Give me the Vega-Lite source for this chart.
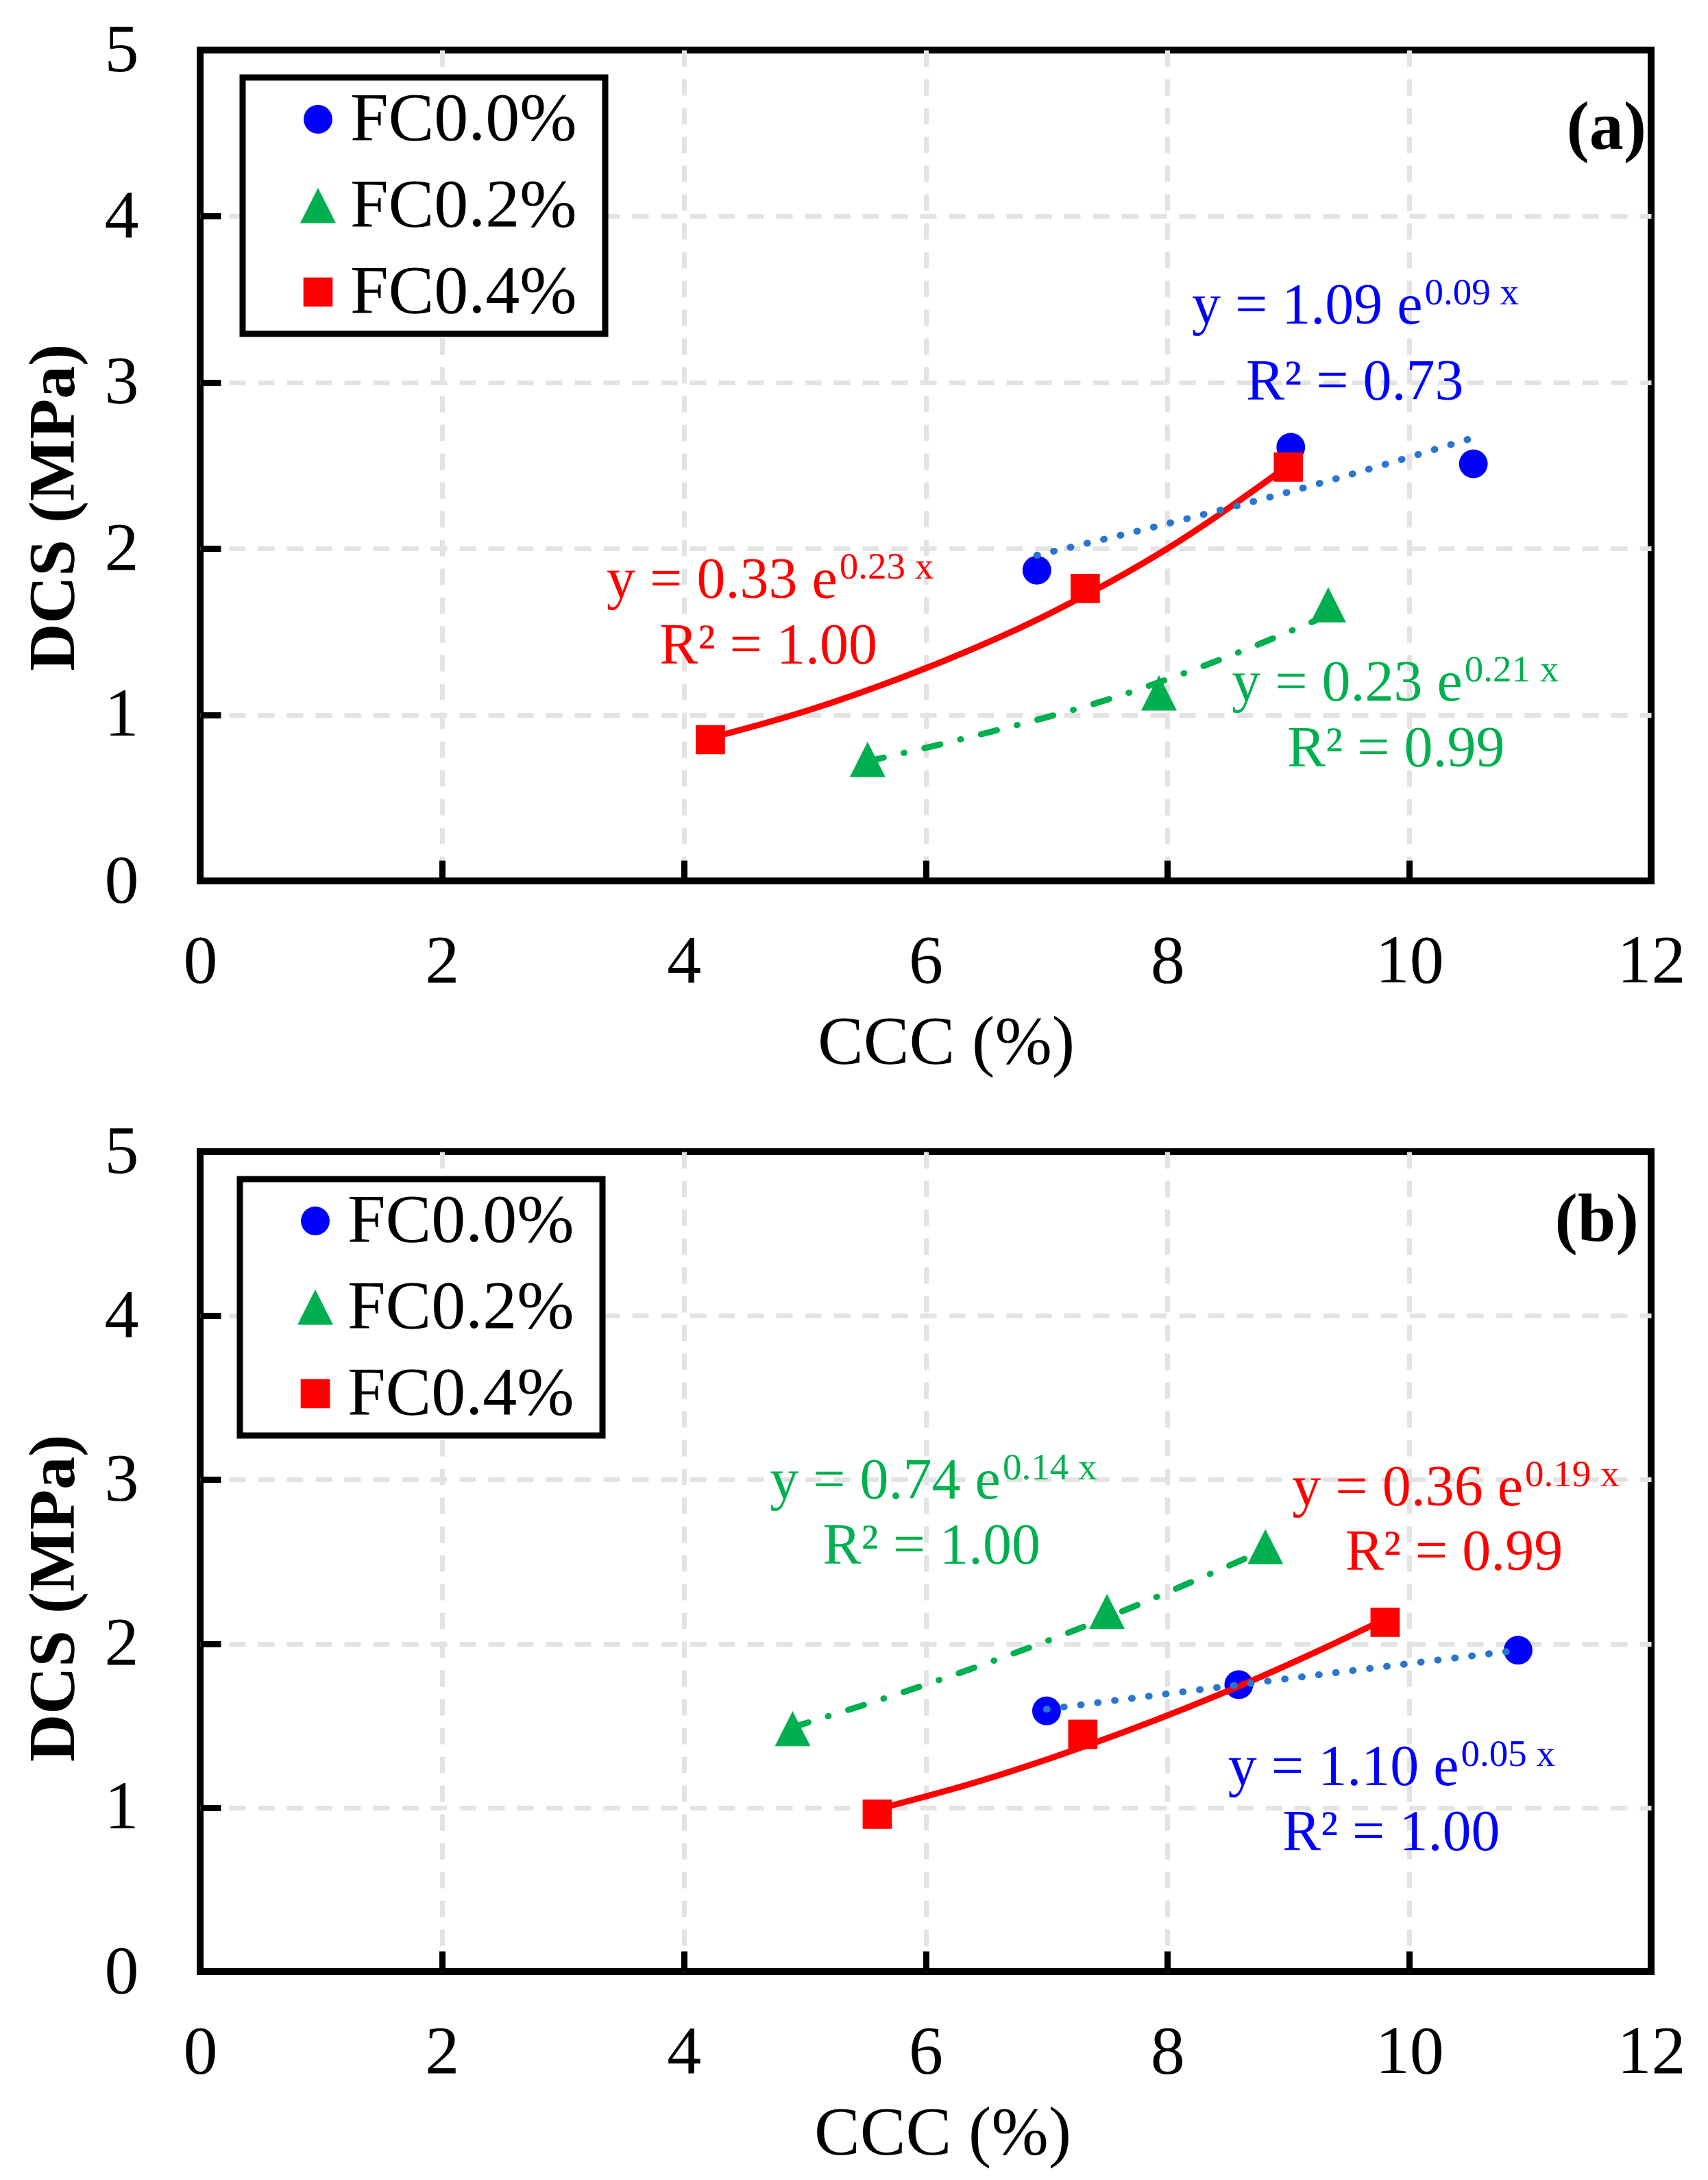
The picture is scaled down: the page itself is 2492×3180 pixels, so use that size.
{
  "$schema": "https://vega.github.io/schema/vega-lite/v6.json",
  "background": "white",
  "padding": {"left": 25, "top": 18, "right": 60, "bottom": 20},
  "bounds": "flush",
  "spacing": 395,
  "config": {
    "font": "Liberation Serif",
    "view": {"stroke": "black", "strokeWidth": 10},
    "legend": {"strokeWidth": 9},
    "axis": {
      "domain": false,
      "grid": true,
      "gridColor": "#E3E3E3",
      "gridWidth": 7,
      "gridDash": [24, 18],
      "ticks": true,
      "tickSize": -30,
      "tickWidth": 9,
      "tickColor": "black",
      "labelFont": "Liberation Serif",
      "labelFontSize": 100,
      "labelColor": "black",
      "labelFlush": false,
      "labelOverlap": false,
      "titleFont": "Liberation Serif",
      "titleFontSize": 100,
      "titleColor": "black"
    },
    "axisX": {"labelPadding": 98, "titlePadding": 19, "titleFontWeight": "normal"},
    "axisY": {"labelPadding": 120, "titlePadding": 25, "titleFontWeight": "bold", "titleFontSize": 96}
  },
  "datasets": {
    "pa": [
      {"series": "FC0.0%", "ccc": 6.92, "dcs": 1.87},
      {"series": "FC0.0%", "ccc": 9.02, "dcs": 2.61},
      {"series": "FC0.0%", "ccc": 10.53, "dcs": 2.51},
      {"series": "FC0.2%", "ccc": 5.52, "dcs": 0.73},
      {"series": "FC0.2%", "ccc": 7.93, "dcs": 1.13},
      {"series": "FC0.2%", "ccc": 9.33, "dcs": 1.66},
      {"series": "FC0.4%", "ccc": 4.22, "dcs": 0.85},
      {"series": "FC0.4%", "ccc": 7.32, "dcs": 1.76},
      {"series": "FC0.4%", "ccc": 9.0, "dcs": 2.49}
    ],
    "ta": [
      {"series": "FC0.0%", "ccc": 6.92, "dcs": 1.96},
      {"series": "FC0.0%", "ccc": 8.0, "dcs": 2.15},
      {"series": "FC0.0%", "ccc": 9.0, "dcs": 2.34},
      {"series": "FC0.0%", "ccc": 10.5, "dcs": 2.66},
      {"series": "FC0.2%", "ccc": 5.52, "dcs": 0.72},
      {"series": "FC0.2%", "ccc": 6.5, "dcs": 0.89},
      {"series": "FC0.2%", "ccc": 7.5, "dcs": 1.09},
      {"series": "FC0.2%", "ccc": 8.5, "dcs": 1.35},
      {"series": "FC0.2%", "ccc": 9.33, "dcs": 1.6},
      {"series": "FC0.4%", "ccc": 4.22, "dcs": 0.86},
      {"series": "FC0.4%", "ccc": 5.0, "dcs": 1.02},
      {"series": "FC0.4%", "ccc": 6.0, "dcs": 1.28},
      {"series": "FC0.4%", "ccc": 7.0, "dcs": 1.6},
      {"series": "FC0.4%", "ccc": 8.0, "dcs": 2.0},
      {"series": "FC0.4%", "ccc": 9.0, "dcs": 2.5}
    ],
    "la": [
      {"kind": "eq", "series": "FC0.0%", "ccc": 10.11, "dcs": 3.354, "txt": "y = 1.09 e", "sup": "0.09 x"},
      {"kind": "r2", "series": "FC0.0%", "ccc": 9.55, "dcs": 2.896, "txt": "R² = 0.73"},
      {"kind": "eq", "series": "FC0.4%", "ccc": 5.27, "dcs": 1.704, "txt": "y = 0.33 e", "sup": "0.23 x"},
      {"kind": "r2", "series": "FC0.4%", "ccc": 4.7, "dcs": 1.308, "txt": "R² = 1.00"},
      {"kind": "eq", "series": "FC0.2%", "ccc": 10.44, "dcs": 1.085, "txt": "y = 0.23 e", "sup": "0.21 x"},
      {"kind": "r2", "series": "FC0.2%", "ccc": 9.89, "dcs": 0.689, "txt": "R² = 0.99"},
      {"kind": "tag", "ccc": 11.63, "dcs": 4.53, "txt": "(a)"}
    ],
    "pb": [
      {"series": "FC0.0%", "ccc": 7.0, "dcs": 1.59},
      {"series": "FC0.0%", "ccc": 8.59, "dcs": 1.75},
      {"series": "FC0.0%", "ccc": 10.9, "dcs": 1.96},
      {"series": "FC0.2%", "ccc": 4.9, "dcs": 1.48},
      {"series": "FC0.2%", "ccc": 7.5, "dcs": 2.195},
      {"series": "FC0.2%", "ccc": 8.81, "dcs": 2.59},
      {"series": "FC0.4%", "ccc": 5.6, "dcs": 0.96},
      {"series": "FC0.4%", "ccc": 7.3, "dcs": 1.447},
      {"series": "FC0.4%", "ccc": 9.8, "dcs": 2.13}
    ],
    "tb": [
      {"series": "FC0.0%", "ccc": 7.0, "dcs": 1.6},
      {"series": "FC0.0%", "ccc": 8.6, "dcs": 1.75},
      {"series": "FC0.0%", "ccc": 10.9, "dcs": 1.96},
      {"series": "FC0.2%", "ccc": 4.9, "dcs": 1.49},
      {"series": "FC0.2%", "ccc": 6.0, "dcs": 1.75},
      {"series": "FC0.2%", "ccc": 7.4, "dcs": 2.13},
      {"series": "FC0.2%", "ccc": 8.8, "dcs": 2.57},
      {"series": "FC0.4%", "ccc": 5.6, "dcs": 0.99},
      {"series": "FC0.4%", "ccc": 6.44, "dcs": 1.16},
      {"series": "FC0.4%", "ccc": 7.3, "dcs": 1.37},
      {"series": "FC0.4%", "ccc": 8.59, "dcs": 1.74},
      {"series": "FC0.4%", "ccc": 9.26, "dcs": 1.96},
      {"series": "FC0.4%", "ccc": 9.8, "dcs": 2.15}
    ],
    "lb": [
      {"kind": "eq", "series": "FC0.2%", "ccc": 6.62, "dcs": 2.885, "txt": "y = 0.74 e", "sup": "0.14 x"},
      {"kind": "r2", "series": "FC0.2%", "ccc": 6.05, "dcs": 2.487, "txt": "R² = 1.00"},
      {"kind": "eq", "series": "FC0.4%", "ccc": 10.94, "dcs": 2.843, "txt": "y = 0.36 e", "sup": "0.19 x"},
      {"kind": "r2", "series": "FC0.4%", "ccc": 10.37, "dcs": 2.45, "txt": "R² = 0.99"},
      {"kind": "eq", "series": "FC0.0%", "ccc": 10.41, "dcs": 1.137, "txt": "y = 1.10 e", "sup": "0.05 x"},
      {"kind": "r2", "series": "FC0.0%", "ccc": 9.85, "dcs": 0.74, "txt": "R² = 1.00"},
      {"kind": "tag", "ccc": 11.55, "dcs": 4.58, "txt": "(b)"}
    ]
  },
  "resolve": {"scale": {"color": "independent", "shape": "independent", "fill": "independent"}},
  "vconcat": [
    {
      "width": 2117,
      "height": 1212,
      "encoding": {
        "x": {"field": "ccc", "type": "quantitative",
          "scale": {"domain": [0, 12], "nice": false, "zero": false},
          "axis": {"title": "CCC (%)", "values": [0, 2, 4, 6, 8, 10, 12], "titleX": 1088,
            "gridOpacity": {"condition": {"test": "datum.value == 0 || datum.value == 12", "value": 0}, "value": 1}}},
        "y": {"field": "dcs", "type": "quantitative",
          "scale": {"domain": [0, 5], "nice": false},
          "axis": {"title": "DCS (MPa)", "values": [0, 1, 2, 3, 4, 5], "titleY": 667,
            "gridOpacity": {"condition": {"test": "datum.value == 0 || datum.value == 5", "value": 0}, "value": 1}}}
      },
      "layer": [
        {
          "data": {"name": "pa"},
          "mark": {"type": "point", "filled": true, "size": 1650, "opacity": 1},
          "encoding": {
            "color": {"field": "series", "type": "nominal",
              "scale": {"domain": ["FC0.0%", "FC0.2%", "FC0.4%"], "range": ["#0000FF", "#00B050", "#FF0000"]},
              "legend": {"title": " ", "titleOrient": "right", "titlePadding": 30, "titleFontSize": 1,
                "orient": "none", "legendX": 62, "legendY": 40,
                "labelFont": "Liberation Serif", "labelFontSize": 100, "labelColor": "black", "labelLimit": 1000,
                "symbolSize": 1650, "symbolStrokeWidth": 0, "symbolOffset": 49, "labelOffset": -3,
                "rowPadding": 26, "padding": 11, "strokeColor": "black", "fillColor": "white", "cornerRadius": 0}},
            "shape": {"field": "series", "type": "nominal",
              "scale": {"domain": ["FC0.0%", "FC0.2%", "FC0.4%"], "range": ["M-1.03,0A1.03,1.03 0 1,0 1.03,0A1.03,1.03 0 1,0 -1.03,0Z", "M0,-1.28L1.28,1.25L-1.28,1.25Z", "M-1.05,-1.05H1.05V1.05H-1.05Z"]},
              "legend": {"title": " ", "titleOrient": "right", "titlePadding": 30, "titleFontSize": 1,
                "orient": "none", "legendX": 62, "legendY": 40,
                "labelFont": "Liberation Serif", "labelFontSize": 100, "labelColor": "black", "labelLimit": 1000,
                "symbolSize": 1650, "symbolStrokeWidth": 0, "symbolOffset": 49, "labelOffset": -3,
                "rowPadding": 26, "padding": 11, "strokeColor": "black", "fillColor": "white", "cornerRadius": 0}}
          }
        },
        {
          "data": {"name": "ta"},
          "transform": [{"filter": "datum.series == 'FC0.4%'"}],
          "mark": {"type": "line", "color": "#FF0000", "strokeWidth": 9, "interpolate": "monotone"},
          "encoding": {}
        },
        {
          "data": {"name": "ta"},
          "transform": [{"filter": "datum.series == 'FC0.2%'"}],
          "mark": {"type": "line", "color": "#00B050", "strokeWidth": 9, "strokeDash": [24, 30, 1, 30], "strokeCap": "round", "interpolate": "monotone"},
          "encoding": {}
        },
        {
          "data": {"name": "ta"},
          "transform": [{"filter": "datum.series == 'FC0.0%'"}],
          "mark": {"type": "line", "color": "#2A76CE", "strokeWidth": 10, "strokeDash": [1, 24], "strokeCap": "round", "interpolate": "monotone"},
          "encoding": {}
        },
        {
          "data": {"name": "la"},
          "transform": [{"filter": "datum.kind == 'eq'"}],
          "mark": {"type": "text", "align": "right", "baseline": "alphabetic", "fontSize": 84, "font": "Liberation Serif"},
          "encoding": {
            "text": {"field": "txt"},
            "fill": {"field": "series", "type": "nominal", "legend": null,
              "scale": {"domain": ["FC0.0%", "FC0.2%", "FC0.4%"], "range": ["#0000FF", "#00B050", "#FF0000"]}}
          }
        },
        {
          "data": {"name": "la"},
          "transform": [{"filter": "datum.kind == 'eq'"}],
          "mark": {"type": "text", "align": "left", "baseline": "alphabetic", "fontSize": 55, "dx": 3, "dy": -28, "font": "Liberation Serif"},
          "encoding": {
            "text": {"field": "sup"},
            "fill": {"field": "series", "type": "nominal", "legend": null}
          }
        },
        {
          "data": {"name": "la"},
          "transform": [{"filter": "datum.kind == 'r2'"}],
          "mark": {"type": "text", "align": "center", "baseline": "alphabetic", "fontSize": 84, "font": "Liberation Serif"},
          "encoding": {
            "text": {"field": "txt"},
            "fill": {"field": "series", "type": "nominal", "legend": null}
          }
        },
        {
          "data": {"name": "la"},
          "transform": [{"filter": "datum.kind == 'tag'"}],
          "mark": {"type": "text", "align": "center", "baseline": "middle", "fontSize": 100, "fontWeight": "bold", "color": "black", "font": "Liberation Serif"},
          "encoding": {"text": {"field": "txt"}}
        }
      ]
    },
    {
      "width": 2117,
      "height": 1196,
      "encoding": {
        "x": {"field": "ccc", "type": "quantitative",
          "scale": {"domain": [0, 12], "nice": false, "zero": false},
          "axis": {"title": "CCC (%)", "values": [0, 2, 4, 6, 8, 10, 12], "titleX": 1083,
            "gridOpacity": {"condition": {"test": "datum.value == 0 || datum.value == 12", "value": 0}, "value": 1}}},
        "y": {"field": "dcs", "type": "quantitative",
          "scale": {"domain": [0, 5], "nice": false},
          "axis": {"title": "DCS (MPa)", "values": [0, 1, 2, 3, 4, 5], "titleY": 651,
            "gridOpacity": {"condition": {"test": "datum.value == 0 || datum.value == 5", "value": 0}, "value": 1}}}
      },
      "layer": [
        {
          "data": {"name": "pb"},
          "mark": {"type": "point", "filled": true, "size": 1650, "opacity": 1},
          "encoding": {
            "color": {"field": "series", "type": "nominal",
              "scale": {"domain": ["FC0.0%", "FC0.2%", "FC0.4%"], "range": ["#0000FF", "#00B050", "#FF0000"]},
              "legend": {"title": " ", "titleOrient": "right", "titlePadding": 30, "titleFontSize": 1,
                "orient": "none", "legendX": 58, "legendY": 40,
                "labelFont": "Liberation Serif", "labelFontSize": 100, "labelColor": "black", "labelLimit": 1000,
                "symbolSize": 1650, "symbolStrokeWidth": 0, "symbolOffset": 49, "labelOffset": -3,
                "rowPadding": 26, "padding": 11, "strokeColor": "black", "fillColor": "white", "cornerRadius": 0}},
            "shape": {"field": "series", "type": "nominal",
              "scale": {"domain": ["FC0.0%", "FC0.2%", "FC0.4%"], "range": ["M-1.03,0A1.03,1.03 0 1,0 1.03,0A1.03,1.03 0 1,0 -1.03,0Z", "M0,-1.28L1.28,1.25L-1.28,1.25Z", "M-1.05,-1.05H1.05V1.05H-1.05Z"]},
              "legend": {"title": " ", "titleOrient": "right", "titlePadding": 30, "titleFontSize": 1,
                "orient": "none", "legendX": 58, "legendY": 40,
                "labelFont": "Liberation Serif", "labelFontSize": 100, "labelColor": "black", "labelLimit": 1000,
                "symbolSize": 1650, "symbolStrokeWidth": 0, "symbolOffset": 49, "labelOffset": -3,
                "rowPadding": 26, "padding": 11, "strokeColor": "black", "fillColor": "white", "cornerRadius": 0}}
          }
        },
        {
          "data": {"name": "tb"},
          "transform": [{"filter": "datum.series == 'FC0.4%'"}],
          "mark": {"type": "line", "color": "#FF0000", "strokeWidth": 9, "interpolate": "monotone"},
          "encoding": {}
        },
        {
          "data": {"name": "tb"},
          "transform": [{"filter": "datum.series == 'FC0.2%'"}],
          "mark": {"type": "line", "color": "#00B050", "strokeWidth": 9, "strokeDash": [24, 30, 1, 30], "strokeCap": "round", "interpolate": "monotone"},
          "encoding": {}
        },
        {
          "data": {"name": "tb"},
          "transform": [{"filter": "datum.series == 'FC0.0%'"}],
          "mark": {"type": "line", "color": "#2A76CE", "strokeWidth": 10, "strokeDash": [1, 24], "strokeCap": "round", "interpolate": "monotone"},
          "encoding": {}
        },
        {
          "data": {"name": "lb"},
          "transform": [{"filter": "datum.kind == 'eq'"}],
          "mark": {"type": "text", "align": "right", "baseline": "alphabetic", "fontSize": 84, "font": "Liberation Serif"},
          "encoding": {
            "text": {"field": "txt"},
            "fill": {"field": "series", "type": "nominal", "legend": null,
              "scale": {"domain": ["FC0.0%", "FC0.2%", "FC0.4%"], "range": ["#0000FF", "#00B050", "#FF0000"]}}
          }
        },
        {
          "data": {"name": "lb"},
          "transform": [{"filter": "datum.kind == 'eq'"}],
          "mark": {"type": "text", "align": "left", "baseline": "alphabetic", "fontSize": 55, "dx": 3, "dy": -28, "font": "Liberation Serif"},
          "encoding": {
            "text": {"field": "sup"},
            "fill": {"field": "series", "type": "nominal", "legend": null}
          }
        },
        {
          "data": {"name": "lb"},
          "transform": [{"filter": "datum.kind == 'r2'"}],
          "mark": {"type": "text", "align": "center", "baseline": "alphabetic", "fontSize": 84, "font": "Liberation Serif"},
          "encoding": {
            "text": {"field": "txt"},
            "fill": {"field": "series", "type": "nominal", "legend": null}
          }
        },
        {
          "data": {"name": "lb"},
          "transform": [{"filter": "datum.kind == 'tag'"}],
          "mark": {"type": "text", "align": "center", "baseline": "middle", "fontSize": 100, "fontWeight": "bold", "color": "black", "font": "Liberation Serif"},
          "encoding": {"text": {"field": "txt"}}
        }
      ]
    }
  ]
}
